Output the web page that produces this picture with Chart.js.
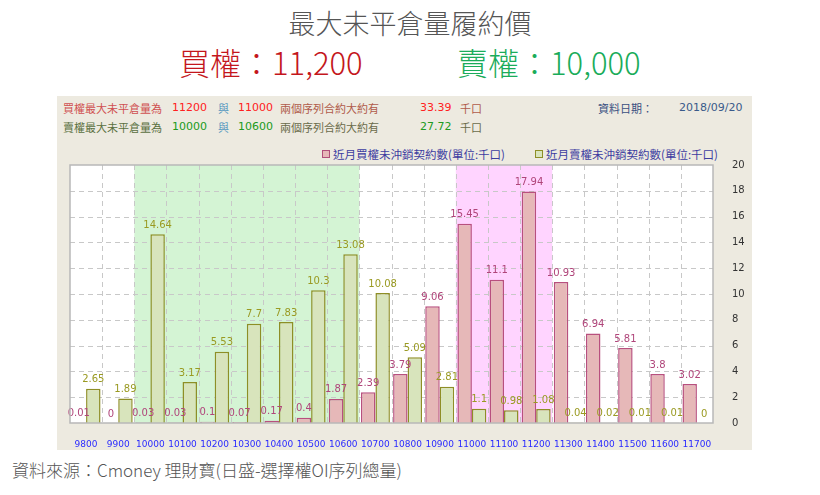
<!DOCTYPE html>
<html>
<head>
<meta charset="utf-8">
<script src="https://cdn.jsdelivr.net/npm/chart.js@4"></script>
<style>
  body { margin: 0; width: 820px; height: 495px; background: #fff; position: relative; overflow: hidden;
         font-family: "Noto Sans CJK TC", "Noto Sans", sans-serif; }
  .abs { position: absolute; white-space: nowrap; }
  #title { left: 0; width: 820px; top: 6px; text-align: center; font-size: 27px; color: #555; font-weight: 300; line-height: 34px; }
  #callMax { left: 179px; top: 42px; font-size: 31px; color: #c4161c; font-weight: 300; line-height: 40px; }
  #putMax { left: 457px; top: 42px; font-size: 31px; color: #1aac5a; font-weight: 300; line-height: 40px; }
  #panel { left: 57px; top: 96px; width: 695px; height: 354px; background: #edeae0; }
  .info { font-size: 11px; line-height: 14px; }
  .num { font-size: 12px; font-family: "DejaVu Sans", sans-serif; font-size: 11px; }
  #src { left: 12px; top: 458px; font-size: 17px; color: #555; font-weight: 300; line-height: 24px; }
  .lg { font-size: 11.5px; color: #3c3ca0; line-height: 14px; }
  .sq { display: inline-block; width: 6px; height: 6px; margin-right: 3px; vertical-align: 1px; }
  #wrap { position: absolute; left: 57px; top: 140px; width: 695px; height: 310px; }
</style>
</head>
<body>
<div id="title" class="abs">最大未平倉量履約價</div>
<div id="callMax" class="abs">買權：11,200</div>
<div id="putMax" class="abs">賣權：10,000</div>
<div id="panel" class="abs"></div>

<div class="abs info" style="left:63px;top:101px;color:#d05050">買權最大未平倉量為</div>
<div class="abs info num" style="left:172px;top:101px;color:#ff2020">11200</div>
<div class="abs info" style="left:218px;top:101px;color:#5a9ac0">與</div>
<div class="abs info num" style="left:238px;top:101px;color:#ff2020">11000</div>
<div class="abs info" style="left:280px;top:101px;color:#b05a4a">兩個序列合約大約有</div>
<div class="abs info num" style="left:420px;top:101px;color:#ff2020">33.39</div>
<div class="abs info" style="left:460px;top:101px;color:#b05a4a">千口</div>
<div class="abs info" style="left:598px;top:101px;color:#3a5080">資料日期：</div>
<div class="abs info num" style="left:679px;top:101px;color:#3a5a8a">2018/09/20</div>

<div class="abs info" style="left:63px;top:120px;color:#5a7040">賣權最大未平倉量為</div>
<div class="abs info num" style="left:172px;top:120px;color:#209a20">10000</div>
<div class="abs info" style="left:218px;top:120px;color:#5a9ac0">與</div>
<div class="abs info num" style="left:238px;top:120px;color:#209a20">10600</div>
<div class="abs info" style="left:280px;top:120px;color:#6a6a4a">兩個序列合約大約有</div>
<div class="abs info num" style="left:420px;top:120px;color:#209a20">27.72</div>
<div class="abs info" style="left:460px;top:120px;color:#6a6a4a">千口</div>

<div class="abs lg" style="left:322px;top:147px"><span class="sq" style="background:#e6b8b8;border:1px solid #b0507a"></span>近月買權未沖銷契約數(單位:千口)</div>
<div class="abs lg" style="left:535px;top:147px"><span class="sq" style="background:#d8e4bc;border:1px solid #8e8e26"></span>近月賣權未沖銷契約數(單位:千口)</div>

<div id="wrap"><canvas id="c"></canvas></div>
<div id="src" class="abs">資料來源：Cmoney 理財寶(日盛-選擇權OI序列總量)</div>

<script>
const strikes = ['9800','9900','10000','10100','10200','10300','10400','10500','10600','10700',
                 '10800','10900','11000','11100','11200','11300','11400','11500','11600','11700'];
const callOI = [0.01, 0, 0.03, 0.03, 0.1, 0.07, 0.17, 0.4, 1.87, 2.39,
                3.79, 9.06, 15.45, 11.1, 17.94, 10.93, 6.94, 5.81, 3.8, 3.02];
const putOI = [2.65, 1.89, 14.64, 3.17, 5.53, 7.7, 7.83, 10.3, 13.08, 10.08,
               5.09, 2.81, 1.1, 0.98, 1.08, 0.04, 0.02, 0.01, 0.01, 0];
const putBand = ['10000', '10600'];
const callBand = ['11000', '11200'];
const yTicks = [0, 2, 4, 6, 8, 10, 12, 14, 16, 18, 20];

const bandPlugin = {
    id: 'bands',
    beforeDatasetsDraw(chart) {
        const { ctx, chartArea: a, scales: { x } } = chart;
        ctx.save();
        ctx.fillStyle = '#ffffff';
        ctx.fillRect(a.left, a.top, a.width, a.height);
        const step = x.getPixelForValue(1) - x.getPixelForValue(0);
        const band = (range, color) => {
            const i0 = strikes.indexOf(range[0]), i1 = strikes.indexOf(range[1]);
            ctx.fillStyle = color;
            const l = x.getPixelForValue(i0) - step / 2;
            const r = x.getPixelForValue(i1) + step / 2;
            ctx.fillRect(l, a.top, r - l, a.height);
        };
        band(putBand, '#d4f4d4');
        band(callBand, '#ffd4ff');
        // 網格線（虛線）
        ctx.strokeStyle = '#c8c8c8';
        ctx.lineWidth = 1;
        ctx.setLineDash([5, 4]);
        for (let i = 1; i < strikes.length; i++) {
            const px = Math.round(x.getPixelForValue(i) - step / 2) + 0.5;
            ctx.beginPath(); ctx.moveTo(px, a.top); ctx.lineTo(px, a.bottom); ctx.stroke();
        }
        const y = chart.scales.y;
        yTicks.slice(1, -1).forEach(v => {
            const py = Math.round(y.getPixelForValue(v)) + 0.5;
            ctx.beginPath(); ctx.moveTo(a.left, py); ctx.lineTo(a.right, py); ctx.stroke();
        });
        ctx.restore();
    },
    afterDatasetsDraw(chart) {
        const { ctx, chartArea: a } = chart;
        ctx.save();
        ctx.font = '10px "DejaVu Sans", sans-serif';
        ctx.textAlign = 'center';
        ctx.textBaseline = 'bottom';
        chart.data.datasets.forEach((ds, di) => {
            const meta = chart.getDatasetMeta(di);
            ctx.fillStyle = ds.labelColor;
            meta.data.forEach((bar, i) => {
                ctx.fillText(String(ds.data[i]), bar.x, bar.y - 4);
            });
        });
        ctx.strokeStyle = '#b8b8b8';
        ctx.lineWidth = 1.5;
        ctx.strokeRect(a.left, a.top, a.width, a.height);
        ctx.restore();
    }
};

new Chart(document.getElementById('c'), {
    type: 'bar',
    data: {
        labels: strikes,
        datasets: [
            { label: '近月買權未沖銷契約數(單位:千口)', data: callOI, backgroundColor: '#e6b8b8',
              borderColor: '#b8507e', borderWidth: 1.5, labelColor: '#b0457a' },
            { label: '近月賣權未沖銷契約數(單位:千口)', data: putOI, backgroundColor: '#d8e4bc',
              borderColor: '#8e8e26', borderWidth: 1.5, labelColor: '#9a9a22' }
        ]
    },
    options: {
        responsive: true,
        maintainAspectRatio: false,
        animation: false,
        categoryPercentage: 0.9,
        barPercentage: 1.0,
        layout: { padding: { left: 13, top: 25, right: 0, bottom: 0 } },
        scales: {
            x: {
                grid: { display: false },
                border: { display: false },
                ticks: { color: '#2a2aff', font: { size: 9, family: 'DejaVu Sans' }, padding: 8, maxRotation: 0, autoSkip: false },
                afterFit: s => { s.height = 27; }
            },
            y: {
                position: 'right',
                min: 0, max: 20,
                grid: { display: false },
                border: { display: false },
                ticks: { stepSize: 2, color: '#333', font: { size: 10, family: 'DejaVu Sans' }, padding: 11 },
                afterFit: s => { s.width = 39; }
            }
        },
        plugins: {
            legend: { display: false },
            tooltip: { enabled: false }
        }
    },
    plugins: [bandPlugin]
});
</script>
</body>
</html>
